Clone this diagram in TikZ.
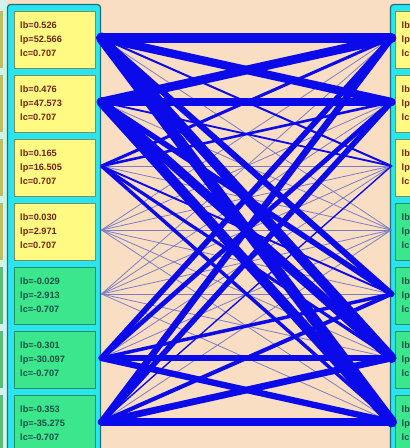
\documentclass[tikz,border=0pt]{standalone}
\usepackage{fontspec}
\setmainfont{Liberation Sans}
\definecolor{bgpeach}{RGB}{250,222,196}
\definecolor{panelcyan}{RGB}{40,230,240}
\definecolor{panelborder}{RGB}{30,110,130}
\definecolor{boxyellow}{RGB}{255,250,130}
\definecolor{yborder}{RGB}{130,140,90}
\definecolor{boxgreen}{RGB}{60,230,140}
\definecolor{gborder}{RGB}{40,140,100}
\definecolor{ytextc}{RGB}{110,35,25}
\definecolor{gtextc}{RGB}{20,80,70}
\definecolor{linkblue}{RGB}{10,10,235}
\definecolor{thinc}{RGB}{125,125,195}
\definecolor{stripolive}{RGB}{190,190,100}
\definecolor{stripgreen}{RGB}{90,190,120}
\definecolor{strippale}{RGB}{210,242,236}
\begin{document}
\begin{tikzpicture}[x=1pt,y=-1pt,
  panel/.style={draw=panelborder, fill=panelcyan, line width=1.2pt, rounded corners=3pt},
  ybox/.style={draw=yborder, fill=boxyellow, line width=0.8pt},
  gbox/.style={draw=gborder, fill=boxgreen, line width=0.8pt},
  labtext/.style={font=\fontsize{9.2}{14}\selectfont\bfseries, align=left, anchor=north west, inner sep=0pt},
  ytext/.style={labtext, text=ytextc},
  gtext/.style={labtext, text=gtextc},
  thinlink/.style={draw=thinc, line width=0.8pt},
  thicklink/.style={draw=linkblue, line cap=round},
]
\clip (0,0) rectangle (410,448);
\fill[bgpeach] (0,0) rectangle (410,448);
% partial column at far left
\fill[strippale] (0,0) rectangle (7,448);
\foreach \k in {0,...,3} \fill[stripolive] (-5,{11+64*\k}) rectangle (2.5,{68+64*\k});
\foreach \k in {4,...,6} \fill[stripgreen] (-5,{11+64*\k}) rectangle (2.5,{68+64*\k});
% panels
\draw[panel] (7.5,4.5) rectangle (100.5,470);
\draw[panel] (390.5,4.5) rectangle (440,470);
% left boxes
\def\lbv{{"0.526","0.476","0.165","0.030","-0.029","-0.301","-0.353"}}
\def\lpv{{"52.566","47.573","16.505","2.971","-2.913","-30.097","-35.275"}}
\def\lcv{{"0.707","0.707","0.707","0.707","-0.707","-0.707","-0.707"}}
\foreach \k in {0,...,6}{
  \pgfmathsetmacro\vb{\lbv[\k]}
  \pgfmathsetmacro\vp{\lpv[\k]}
  \pgfmathsetmacro\vc{\lcv[\k]}
  \ifnum\k<4
    \draw[ybox] (14,{11+64*\k}) rectangle (95.5,{68+64*\k});
    \node[ytext] (lt\k) at (20,{22+64*\k}) {lb=\vb\\lp=\vp\\lc=\vc};
  \else
    \draw[gbox] (14,{11+64*\k}) rectangle (95.5,{68+64*\k});
    \node[gtext] (lt\k) at (20,{22+64*\k}) {lb=\vb\\lp=\vp\\lc=\vc};
  \fi
}
% right boxes
\foreach \k in {0,...,6}{
  \ifnum\k<3
    \draw[ybox] (395.5,{11+64*\k}) rectangle (440,{68+64*\k});
    \node[ytext] (rt\k) at (401.5,{22+64*\k}) {lb\\lp\\lc};
  \else
    \draw[gbox] (395.5,{11+64*\k}) rectangle (440,{68+64*\k});
    \node[gtext] (rt\k) at (401.5,{22+64*\k}) {lb\\lp\\lc};
  \fi
}
% connection end points
\foreach \k in {0,...,6}{
  \coordinate (L\k) at (101.5,{38+64*\k});
  \coordinate (R\k) at (391.5,{38+64*\k});
}
\def\avals{{0.526,0.476,0.165,0.030,-0.029,-0.301,-0.353}}
\def\bvals{{0.53,0.45,0.11,-0.03,-0.33,-0.55,-0.6}}
% thin links first
\foreach \i in {0,...,6}{
  \foreach \j in {0,...,6}{
    \pgfmathsetmacro\w{35*abs(\avals[\i]*\bvals[\j])}
    \pgfmathtruncatemacro\isthin{\w<1.2}
    \ifnum\isthin=1 \draw[thinlink] (L\i) -- (R\j); \fi
  }
}
% thick links
\foreach \i in {0,...,6}{
  \foreach \j in {0,...,6}{
    \pgfmathsetmacro\w{35*abs(\avals[\i]*\bvals[\j])}
    \pgfmathtruncatemacro\isthin{\w<1.2}
    \ifnum\isthin=0 \draw[thicklink, line width=\w pt] (L\i) -- (R\j); \fi
  }
}
\end{tikzpicture}
\end{document}
